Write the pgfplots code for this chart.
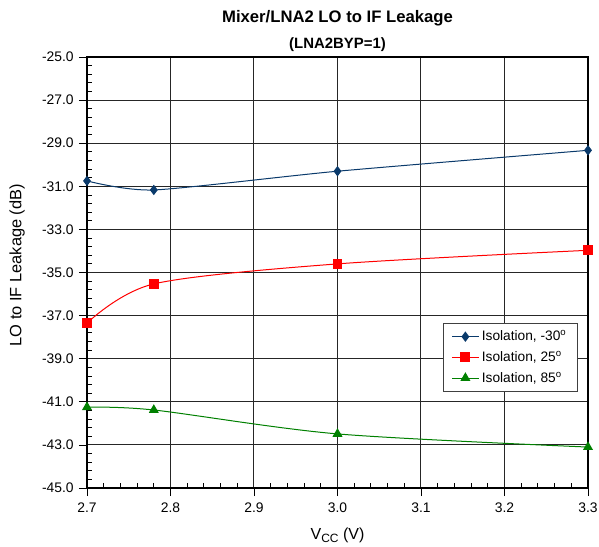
\documentclass[border=0pt]{standalone}
\usepackage{pgfplots}
\pgfplotsset{compat=1.18}
\usepackage{fontspec}
\setmainfont{Liberation Sans}
\definecolor{cblue}{HTML}{0A3A6B}
\definecolor{cred}{HTML}{FF0000}
\definecolor{cgreen}{HTML}{008000}
\begin{document}
\begin{tikzpicture}
\useasboundingbox (-65.25pt,-43.5pt) rectangle (384pt,366pt);
\begin{axis}[
  at={(0,0)}, anchor=south west,
  scale only axis,
  width=375.75pt, height=323.25pt,
  xmin=2.7, xmax=3.3, ymin=-45, ymax=-25,
  xtick={2.7,2.8,...,3.3},
  ytick={-45,-43,...,-25},
  minor x tick num=4, minor y tick num=4,
  tick pos=left,
  tick align=inside,
  major tick length=6pt, minor tick length=3.5pt,
  major x tick style={yshift=-6pt},
  major y tick style={xshift=-6pt},
  grid=major,
  major grid style={black!85, line width=0.75pt},
  axis line style={black, line width=0.8pt},
  every tick/.style={black, line width=0.6pt},
  xticklabel style={/pgf/number format/fixed, /pgf/number format/precision=1, /pgf/number format/fixed zerofill, font=\fontsize{10.4}{12}\selectfont, yshift=-7.5pt},
  yticklabel style={/pgf/number format/fixed, /pgf/number format/precision=1, /pgf/number format/fixed zerofill, font=\fontsize{10.4}{12}\selectfont, xshift=-6.5pt},
  /pgf/number format/assume math mode=true,
  xlabel={V\raisebox{-2.2pt}{\fontsize{9}{10}\selectfont CC} (V)},
  ylabel={LO to IF Leakage (dB)},
  xlabel style={at={(axis description cs:0.5,-0.109)}, anchor=center, font=\fontsize{12}{14}\selectfont},
  ylabel style={at={(axis description cs:-0.1397,0.517)}, anchor=center, rotate=0, font=\fontsize{12.3}{14}\selectfont},
  title={\fontsize{12.5}{15}\selectfont\bfseries Mixer/LNA2 LO to IF Leakage\\[7.5pt]\fontsize{11.2}{13}\selectfont\bfseries (LNA2BYP=1)},
  title style={at={(axis description cs:0.5,1)}, anchor=south, align=center, inner sep=0pt, yshift=-2.5pt},
  legend style={at={(0.711,0.383)}, anchor=north west, draw=black!75, line width=0.6pt, font=\fontsize{10.3}{12}\selectfont, row sep=2.5pt, inner xsep=6pt, inner ysep=3.5pt, legend cell align=left},
  legend image code/.code={\draw[mark repeat=2, mark phase=2] plot coordinates {(0cm,0cm) (0.35cm,0cm) (0.7cm,0cm)};},
]
\addplot[cblue, line width=0.75pt, smooth, tension=0.4, mark=diamond*, mark size=3.3pt, mark options={solid, fill=cblue}]
  coordinates {(2.7,-30.75) (2.78,-31.17) (3.0,-30.3) (3.3,-29.33)};
\addlegendentry{Isolation, -30\textsuperscript{o}}
\addplot[cred, line width=0.75pt, smooth, tension=0.5, mark=square*, mark size=3.3pt, mark options={solid, fill=cred}]
  coordinates {(2.7,-37.35) (2.78,-35.53) (3.0,-34.6) (3.3,-33.97)};
\addlegendentry{Isolation, 25\textsuperscript{o}}
\addplot[cgreen, line width=0.75pt, smooth, tension=0.5, mark=triangle*, mark size=3.6pt, mark options={solid, fill=cgreen}]
  coordinates {(2.7,-41.25) (2.78,-41.38) (3.0,-42.49) (3.3,-43.1)};
\addlegendentry{Isolation, 85\textsuperscript{o}}
\end{axis}
\end{tikzpicture}
\end{document}
